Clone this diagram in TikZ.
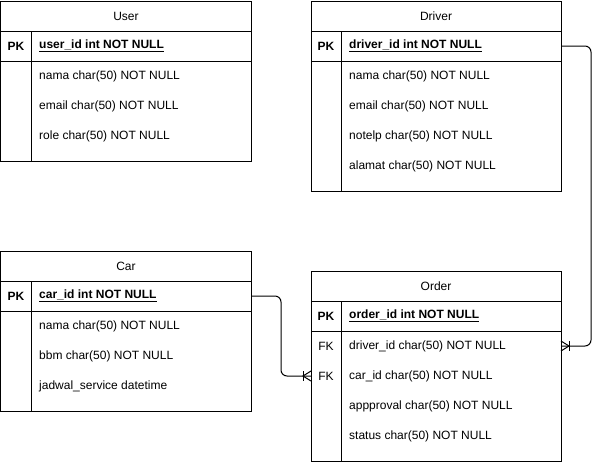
\documentclass[tikz,border=0pt]{standalone}
\usepackage{fontspec}
\setmainfont{Liberation Sans}
\usepackage{tikz}
\usetikzlibrary{positioning, calc}
\tikzset{
    tablehead/.style={rectangle, draw, line width=1pt, minimum width=250pt, minimum height=30pt, inner sep=0pt, outer sep=0pt},
    tablebody/.style={rectangle, draw, line width=1pt, minimum width=250pt, inner sep=0pt, outer sep=0pt},
    keylabel/.style={inner sep=0pt},
    field/.style={anchor=west, inner sep=0pt},
    relation/.style={line width=1pt, rounded corners=6pt},
    crowfoot/.pic={\draw[line width=1pt] (0,-5) -- (8,0) -- (0,5); \draw[line width=1pt] (8,-5) -- (8,5);}
}
\begin{document}
\begin{tikzpicture}[x=1pt, y=-1pt, every node/.style={font=\fontsize{12pt}{14pt}\selectfont}]
            \useasboundingbox (-1,-1) rectangle (598,460);

            \node[tablehead] (user) at (125,15) {User};
            \node[tablehead, below=0pt of user] (userpk) {};
            \node[tablebody, minimum height=100pt, below=0pt of userpk] (userbody) {};
            \draw[line width=1pt] ([xshift=30pt]userpk.north west) -- ([xshift=30pt]userbody.south west);
            \node[keylabel] (userpkkey) at ([xshift=15pt]userpk.west) {\bfseries PK};
            \node[field] (userid) at ([xshift=38pt]userpk.west) {\bfseries\underline{user\_id int NOT NULL}};
            \foreach \txt [count=\i] in {nama char(50) NOT NULL, email char(50) NOT NULL, role char(50) NOT NULL}
                \node[field] (user-\i) at ([xshift=38pt, yshift={(15-30*\i)*1pt}]userbody.north west) {\txt};

            \node[tablehead] (driver) at (435,15) {Driver};
            \node[tablehead, below=0pt of driver] (driverpk) {};
            \node[tablebody, minimum height=130pt, below=0pt of driverpk] (driverbody) {};
            \draw[line width=1pt] ([xshift=30pt]driverpk.north west) -- ([xshift=30pt]driverbody.south west);
            \node[keylabel] (driverpkkey) at ([xshift=15pt]driverpk.west) {\bfseries PK};
            \node[field] (driverid) at ([xshift=38pt]driverpk.west) {\bfseries\underline{driver\_id int NOT NULL}};
            \foreach \txt [count=\i] in {nama char(50) NOT NULL, email char(50) NOT NULL, notelp char(50) NOT NULL, alamat char(50) NOT NULL}
                \node[field] (driver-\i) at ([xshift=38pt, yshift={(15-30*\i)*1pt}]driverbody.north west) {\txt};

            \node[tablehead] (car) at (125,265) {Car};
            \node[tablehead, below=0pt of car] (carpk) {};
            \node[tablebody, minimum height=100pt, below=0pt of carpk] (carbody) {};
            \draw[line width=1pt] ([xshift=30pt]carpk.north west) -- ([xshift=30pt]carbody.south west);
            \node[keylabel] (carpkkey) at ([xshift=15pt]carpk.west) {\bfseries PK};
            \node[field] (carid) at ([xshift=38pt]carpk.west) {\bfseries\underline{car\_id int NOT NULL}};
            \foreach \txt [count=\i] in {nama char(50) NOT NULL, bbm char(50) NOT NULL, jadwal\_service datetime}
                \node[field] (car-\i) at ([xshift=38pt, yshift={(15-30*\i)*1pt}]carbody.north west) {\txt};

            \node[tablehead] (order) at (435,285) {Order};
            \node[tablehead, below=0pt of order] (orderpk) {};
            \node[tablebody, minimum height=130pt, below=0pt of orderpk] (orderbody) {};
            \draw[line width=1pt] ([xshift=30pt]orderpk.north west) -- ([xshift=30pt]orderbody.south west);
            \node[keylabel] (orderpkkey) at ([xshift=15pt]orderpk.west) {\bfseries PK};
            \node[field] (orderid) at ([xshift=38pt]orderpk.west) {\bfseries\underline{order\_id int NOT NULL}};
            \foreach \txt [count=\i] in {driver\_id char(50) NOT NULL, car\_id char(50) NOT NULL, appproval char(50) NOT NULL, status char(50) NOT NULL}
                \node[field] (order-\i) at ([xshift=38pt, yshift={(15-30*\i)*1pt}]orderbody.north west) {\txt};
            \foreach \i in {1,2}
                \node[keylabel] (orderfk-\i) at ([xshift=15pt, yshift={(15-30*\i)*1pt}]orderbody.north west) {FK};

            \draw[relation] (driverpk.east) -- ++(30,0) |- (orderbody.east |- order-1);
            \pic at (orderbody.east |- order-1) {crowfoot};
            \draw[relation] (carpk.east) -- ++(30,0) |- (orderbody.west |- order-2);
            \pic[xscale=-1] at (orderbody.west |- order-2) {crowfoot};
        \end{tikzpicture}
\end{document}
